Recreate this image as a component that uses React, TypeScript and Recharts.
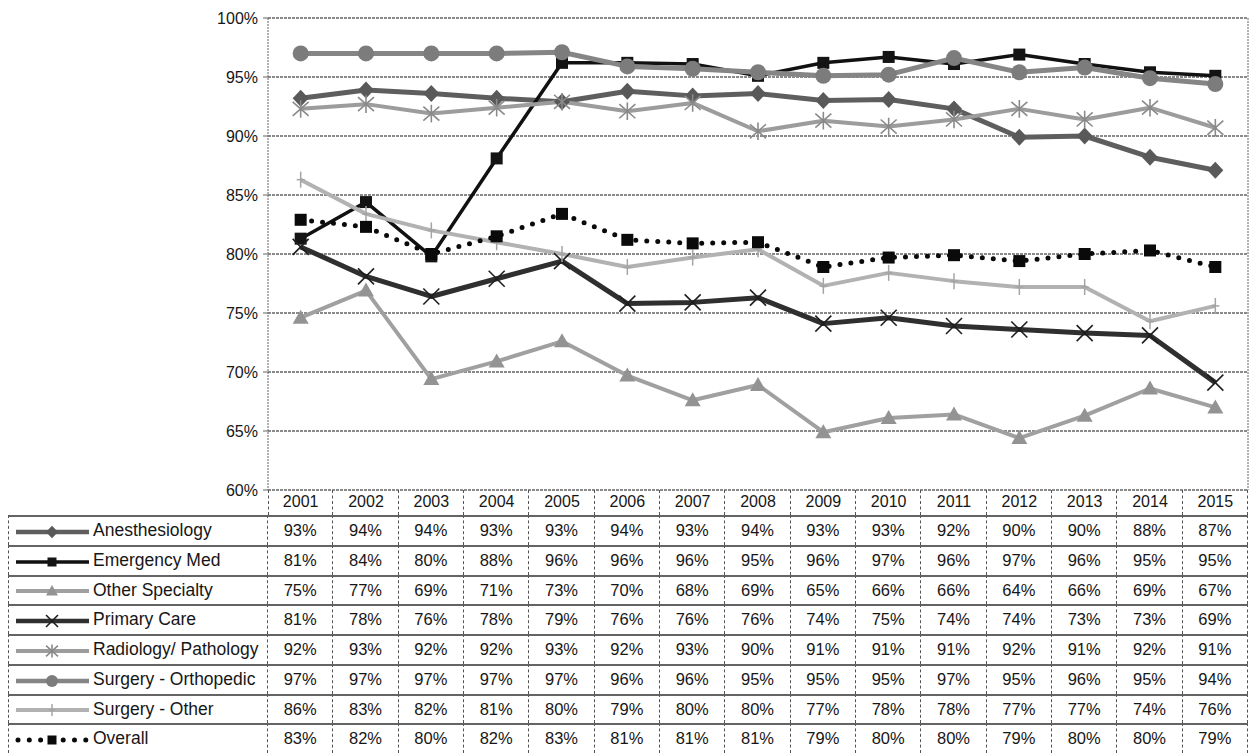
import React from "react";
import { LineChart, Line, XAxis, YAxis, CartesianGrid } from "recharts";

const years = ["2001", "2002", "2003", "2004", "2005", "2006", "2007", "2008", "2009", "2010", "2011", "2012", "2013", "2014", "2015"];

const anesthesiology = [93.2, 93.9, 93.6, 93.2, 92.9, 93.8, 93.4, 93.6, 93.0, 93.1, 92.3, 89.9, 90.0, 88.2, 87.1];
const emergencyMed = [81.3, 84.4, 79.8, 88.1, 96.2, 96.2, 96.1, 95.1, 96.2, 96.7, 96.1, 96.9, 96.1, 95.4, 95.1];
const otherSpecialty = [74.6, 76.9, 69.4, 70.9, 72.6, 69.7, 67.6, 68.9, 64.9, 66.1, 66.4, 64.4, 66.3, 68.6, 67.0];
const primaryCare = [80.6, 78.1, 76.4, 77.9, 79.4, 75.8, 75.9, 76.3, 74.1, 74.6, 73.9, 73.6, 73.3, 73.1, 69.1];
const radiologyPathology = [92.3, 92.7, 91.9, 92.4, 92.9, 92.1, 92.8, 90.4, 91.3, 90.8, 91.4, 92.3, 91.4, 92.4, 90.7];
const surgeryOrthopedic = [97.0, 97.0, 97.0, 97.0, 97.1, 95.9, 95.7, 95.4, 95.1, 95.2, 96.6, 95.4, 95.8, 94.9, 94.4];
const surgeryOther = [86.3, 83.4, 82.0, 81.0, 80.0, 78.9, 79.7, 80.4, 77.3, 78.4, 77.7, 77.2, 77.2, 74.3, 75.6];
const overall = [82.9, 82.3, 80.0, 81.5, 83.4, 81.2, 80.9, 81.0, 78.9, 79.7, 79.9, 79.4, 80.0, 80.3, 78.9];

const yTicks = [60, 65, 70, 75, 80, 85, 90, 95, 100];

type Shape = "diamond" | "square" | "triangle" | "x" | "asterisk" | "circle" | "plus";

interface Series {
  key: string;
  name: string;
  values: number[];
  color: string;
  width: number;
  shape: Shape;
  markerColor: string;
  dotted?: boolean;
}

const series: Series[] = [
  { key: "anesthesiology", name: "Anesthesiology", values: anesthesiology, color: "#5e5e5e", width: 5, shape: "diamond", markerColor: "#595959" },
  { key: "emergencyMed", name: "Emergency Med", values: emergencyMed, color: "#111111", width: 3.5, shape: "square", markerColor: "#141414" },
  { key: "otherSpecialty", name: "Other Specialty", values: otherSpecialty, color: "#a0a0a0", width: 4, shape: "triangle", markerColor: "#939393" },
  { key: "primaryCare", name: "Primary Care", values: primaryCare, color: "#2f2f2f", width: 5, shape: "x", markerColor: "#1e1e1e" },
  { key: "radiologyPathology", name: "Radiology/ Pathology", values: radiologyPathology, color: "#9c9c9c", width: 4, shape: "asterisk", markerColor: "#8a8a8a" },
  { key: "surgeryOrthopedic", name: "Surgery - Orthopedic", values: surgeryOrthopedic, color: "#858585", width: 5, shape: "circle", markerColor: "#7c7c7c" },
  { key: "surgeryOther", name: "Surgery - Other", values: surgeryOther, color: "#b2b2b2", width: 4, shape: "plus", markerColor: "#a4a4a4" },
  { key: "overall", name: "Overall", values: overall, color: "#0a0a0a", width: 5, shape: "square", markerColor: "#0a0a0a", dotted: true },
];

const rows = years.map((year, i) => {
  const row: Record<string, string | number> = { year };
  series.forEach((s) => {
    row[s.key] = s.values[i];
  });
  return row;
});

const FONT = "Arial, 'Liberation Sans', sans-serif";
const W = 1250;
const H = 753;
const PLOT_LEFT = 268;
const PLOT_RIGHT = 1248;
const PLOT_TOP = 18;
const PLOT_BOTTOM = 490;
const COL_W = (PLOT_RIGHT - PLOT_LEFT) / years.length;
const HEADER_H = 25;
const ROW_H = (H - PLOT_BOTTOM - HEADER_H) / series.length;
const GRID = "#646464";
const TEXT = "#161616";

// k scales the marker (legend samples use smaller ones)
function marker(shape: Shape, cx: number, cy: number, color: string, key?: string | number, k = 1) {
  const d = 8 * k;
  switch (shape) {
    case "diamond":
      return <polygon key={key} points={`${cx},${cy - d * 1.06} ${cx + d},${cy} ${cx},${cy + d * 1.06} ${cx - d},${cy}`} fill={color} />;
    case "square":
      return <rect key={key} x={cx - 0.75 * d} y={cy - 0.75 * d} width={1.5 * d} height={1.5 * d} fill={color} />;
    case "triangle":
      return <polygon key={key} points={`${cx},${cy - d} ${cx + d},${cy + 0.75 * d} ${cx - d},${cy + 0.75 * d}`} fill={color} />;
    case "x":
      return (
        <g key={key} stroke={color} strokeWidth={1.6}>
          <line x1={cx - d} y1={cy - d} x2={cx + d} y2={cy + d} />
          <line x1={cx - d} y1={cy + d} x2={cx + d} y2={cy - d} />
        </g>
      );
    case "asterisk":
      return (
        <g key={key} stroke={color} strokeWidth={1.6}>
          <line x1={cx - d} y1={cy - 0.88 * d} x2={cx + d} y2={cy + 0.88 * d} />
          <line x1={cx - d} y1={cy + 0.88 * d} x2={cx + d} y2={cy - 0.88 * d} />
          <line x1={cx} y1={cy - 1.1 * d} x2={cx} y2={cy + 1.1 * d} />
        </g>
      );
    case "circle":
      return <circle key={key} cx={cx} cy={cy} r={d} fill={color} />;
    case "plus":
      return (
        <g key={key} stroke={color} strokeWidth={1.5}>
          <line x1={cx} y1={cy - d} x2={cx} y2={cy + d} />
          <line x1={cx - d / 2} y1={cy} x2={cx + d / 2} y2={cy} />
        </g>
      );
  }
  return null;
}

function LegendSample({ s }: { s: Series }) {
  return (
    <svg width={80} height={20} style={{ position: "absolute", left: 4, top: (ROW_H - 20) / 2 }}>
      <line
        x1={s.dotted ? 5 : 3}
        y1={10}
        x2={s.dotted ? 73 : 76}
        y2={10}
        stroke={s.color}
        strokeWidth={s.dotted ? 5 : Math.min(s.width, 4.5)}
        strokeDasharray={s.dotted ? "0 11.3" : undefined}
        strokeLinecap={s.dotted ? "round" : "butt"}
      />
      {marker(s.shape, 39, 10, s.markerColor, undefined, 0.75)}
    </svg>
  );
}

function YearTick(props: any) {
  const { x, y, payload } = props;
  return (
    <text x={x} y={y} dy={17} textAnchor="middle" fontSize={16} fill={TEXT} fontFamily={FONT}>
      {payload.value}
    </text>
  );
}

function DataTable() {
  const vBorder = `1px dashed #555`;
  const hBorder = `2px solid ${GRID}`;
  const cells: React.ReactNode[] = [];

  years.forEach((y, c) => {
    cells.push(
      <div
        key={`h-${y}`}
        style={{
          position: "absolute",
          left: PLOT_LEFT + c * COL_W,
          top: PLOT_BOTTOM,
          width: COL_W,
          height: HEADER_H,
          boxSizing: "border-box",
          borderRight: vBorder,
          borderLeft: c === 0 ? vBorder : undefined,
        }}
      />
    );
  });

  series.forEach((s, r) => {
    const top = PLOT_BOTTOM + HEADER_H + r * ROW_H;
    cells.push(
      <div
        key={`l-${s.key}`}
        style={{
          position: "absolute",
          left: 8,
          top,
          width: PLOT_LEFT - 8,
          height: ROW_H,
          boxSizing: "border-box",
          borderLeft: vBorder,
          borderRight: vBorder,
          borderTop: hBorder,
        }}
      >
        <LegendSample s={s} />
        <span style={{ position: "absolute", left: 84, top: -1, lineHeight: `${ROW_H}px`, fontSize: 17.5, color: TEXT, whiteSpace: "nowrap" }}>
          {s.name}
        </span>
      </div>
    );
    s.values.forEach((v, c) => {
      cells.push(
        <div
          key={`${s.key}-${c}`}
          style={{
            position: "absolute",
            left: PLOT_LEFT + c * COL_W,
            top,
            width: COL_W,
            height: ROW_H,
            boxSizing: "border-box",
            borderRight: vBorder,
            borderTop: hBorder,
            textAlign: "center",
            lineHeight: `${ROW_H - 2}px`,
            fontSize: 16.5,
            color: TEXT,
          }}
        >
          {`${Math.round(v)}%`}
        </div>
      );
    });
  });

  return <>{cells}</>;
}

export default function App() {
  return (
    <div style={{ position: "absolute", left: 0, top: 0, width: W, height: H, background: "#fff", fontFamily: FONT, overflow: "hidden" }}>
      <LineChart
        width={W}
        height={H}
        data={rows}
        margin={{ top: PLOT_TOP, right: 0, bottom: H - PLOT_BOTTOM - HEADER_H, left: PLOT_LEFT - 60 }}
      >
        <CartesianGrid vertical={false} stroke={GRID} strokeWidth={1.6} strokeDasharray="3 1" />
        <XAxis
          dataKey="year"
          height={HEADER_H}
          axisLine={false}
          tickLine={false}
          tickSize={0}
          tickMargin={0}
          padding={{ left: COL_W / 2, right: COL_W / 2 }}
          tick={<YearTick />}
          interval={0}
        />
        <YAxis
          width={60}
          domain={[60, 100]}
          ticks={yTicks}
          tickFormatter={(v: number) => `${v}%`}
          tick={{ fontSize: 16, fill: TEXT, fontFamily: FONT }}
          tickSize={5}
          tickMargin={5}
          axisLine={{ stroke: GRID, strokeDasharray: "2 1" }}
          tickLine={{ stroke: GRID }}
          allowDataOverflow
        />
        <YAxis
          yAxisId="frame"
          orientation="right"
          width={W - PLOT_RIGHT}
          domain={[60, 100]}
          tick={false}
          tickLine={false}
          axisLine={{ stroke: GRID, strokeDasharray: "2 1" }}
        />
        {series.map((s) => (
          <Line
            key={s.key}
            type="linear"
            dataKey={s.key}
            name={s.name}
            stroke={s.color}
            strokeWidth={s.width}
            strokeDasharray={s.dotted ? "0 11" : undefined}
            strokeLinecap={s.dotted ? "round" : "butt"}
            strokeLinejoin="round"
            isAnimationActive={false}
            dot={(p: any) => marker(s.shape, p.cx, p.cy, s.markerColor, `${s.key}-${p.index}`) as any}
            activeDot={false}
          />
        ))}
      </LineChart>
      <DataTable />
    </div>
  );
}
